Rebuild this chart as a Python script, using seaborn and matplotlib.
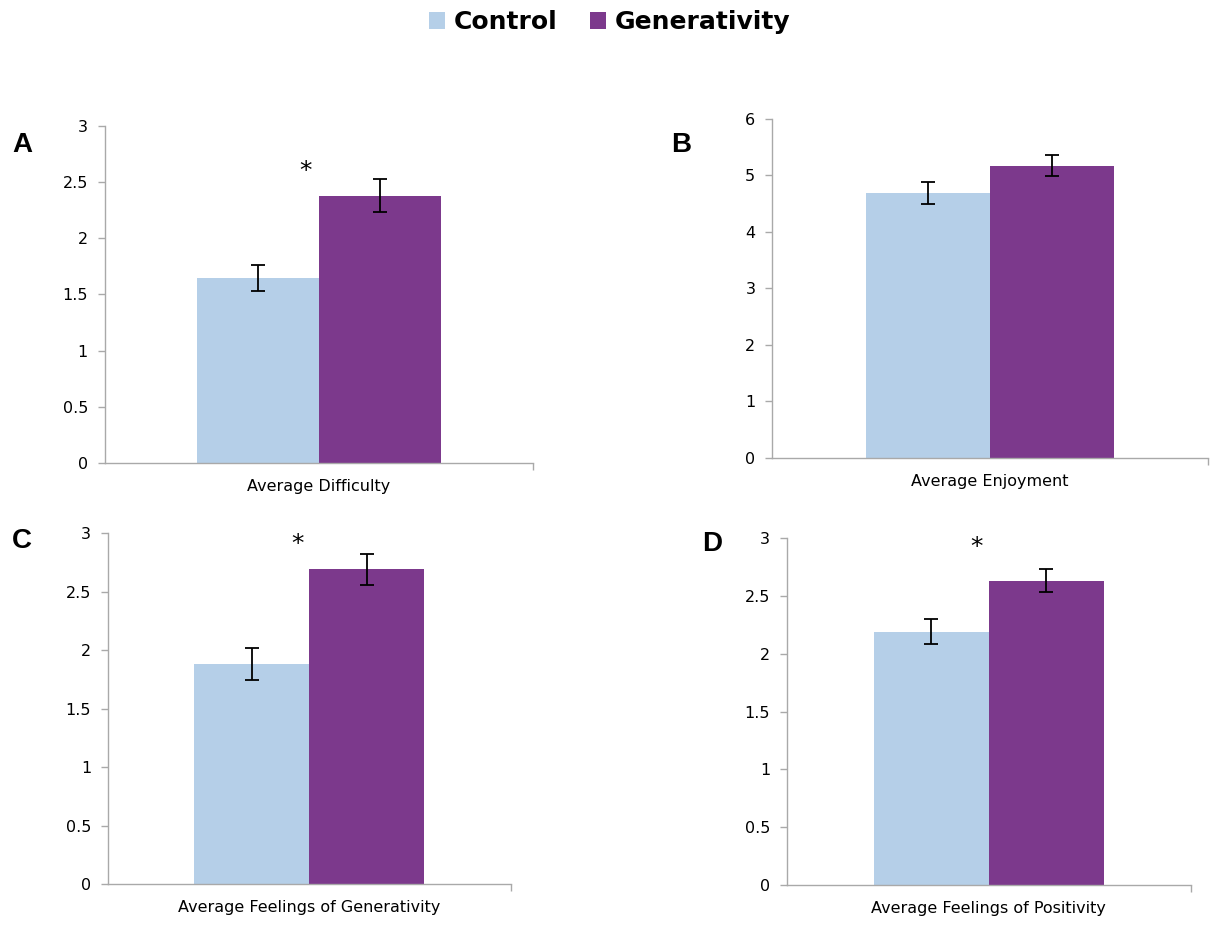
import matplotlib
matplotlib.use("Agg")
import matplotlib.pyplot as plt
from matplotlib.patches import Patch
from matplotlib.ticker import FuncFormatter, MultipleLocator
import numpy as np
import pandas as pd
import seaborn as sns

# ---- data -------------------------------------------------------------
conditions = ["Control", "Generativity"]
measures = ["Average Difficulty", "Average Enjoyment",
            "Average Feelings of Generativity", "Average Feelings of Positivity"]
panel_letters = ["A", "B", "C", "D"]
control_means = [1.65, 4.69, 1.88, 2.19]
control_se = [0.115, 0.195, 0.135, 0.11]
generativity_means = [2.38, 5.17, 2.69, 2.63]
generativity_se = [0.15, 0.185, 0.13, 0.10]
significant = [True, False, True, True]
y_max = [3, 6, 3, 3]
y_step = [0.5, 1, 0.5, 0.5]

palette = {"Control": "#b5cfe8", "Generativity": "#7c398c"}
spine_grey = "#a9a9a9"
font = "DejaVu Sans"

sns.set_theme(style="white")
plt.rcParams["font.family"] = [font]
plt.rcParams["text.color"] = "black"
plt.rcParams["axes.labelcolor"] = "black"

fig = plt.figure(figsize=(12.10, 9.25), dpi=100)

# axes rectangles [left, bottom, width, height] in figure fractions
rects = [
    [0.0864, 0.4995, 0.3541, 0.3643],
    [0.6380, 0.5049, 0.3600, 0.3665],
    [0.0890, 0.0438, 0.3331, 0.3800],
    [0.6502, 0.0432, 0.3341, 0.3751],
]
letter_pos = [(0.010, 0.843), (0.555, 0.843), (0.010, 0.415), (0.580, 0.412)]
star_y = [2.60, None, 2.91, 2.92]

for i, measure in enumerate(measures):
    ax = fig.add_axes(rects[i])
    df = pd.DataFrame({
        "measure": [measure, measure],
        "condition": conditions,
        "mean": [control_means[i], generativity_means[i]],
        "se": [control_se[i], generativity_se[i]],
    })
    sns.barplot(data=df, x="measure", y="mean", hue="condition",
                hue_order=conditions, palette=palette, width=0.57,
                errorbar=None, legend=False, ax=ax, linewidth=0,
                saturation=1)
    # standard-error bars at each bar centre
    for patch, (_, row) in zip(ax.patches, df.iterrows()):
        cx = patch.get_x() + patch.get_width() / 2
        ax.errorbar(cx, row["mean"], yerr=row["se"], fmt="none",
                    ecolor="black", elinewidth=1.3, capsize=5, capthick=1.3,
                    zorder=5)
    if significant[i]:
        ax.text(-0.03, star_y[i], "*", ha="center", va="center",
                fontsize=18, color="black", clip_on=False)

    ax.set_xlim(-0.5, 0.5)
    ax.set_ylim(0, y_max[i])
    ax.yaxis.set_major_locator(MultipleLocator(y_step[i]))
    ax.yaxis.set_major_formatter(FuncFormatter(lambda v, p: f"{v:g}"))
    ax.set_xticks([0.5])
    ax.set_xticklabels([""])
    ax.set_xlabel(measure, fontsize=11.5, labelpad=3, color="black")
    ax.set_ylabel("")
    for side in ("top", "right"):
        ax.spines[side].set_visible(False)
    for side in ("left", "bottom"):
        ax.spines[side].set_color(spine_grey)
        ax.spines[side].set_linewidth(1.0)
    ax.tick_params(axis="y", direction="out", length=5, width=1,
                   color=spine_grey, labelsize=11.5, pad=7,
                   labelcolor="black", left=True)
    ax.tick_params(axis="x", direction="out", length=5, width=1,
                   color=spine_grey, bottom=True)

    fig.text(letter_pos[i][0], letter_pos[i][1], panel_letters[i],
             fontsize=20, fontweight="bold", family="Liberation Sans",
             ha="left", va="center", color="black")

handles = [Patch(facecolor=palette[c], edgecolor="none", label=c)
           for c in conditions]
fig.legend(handles=handles, loc="center", bbox_to_anchor=(0.504, 0.976),
           ncol=2, frameon=False, labelcolor="black",
           prop={"family": font, "weight": "bold", "size": 18},
           handlelength=0.65, handleheight=0.65, handletextpad=0.35,
           columnspacing=1.3)

fig.savefig("out.png", dpi=100)
